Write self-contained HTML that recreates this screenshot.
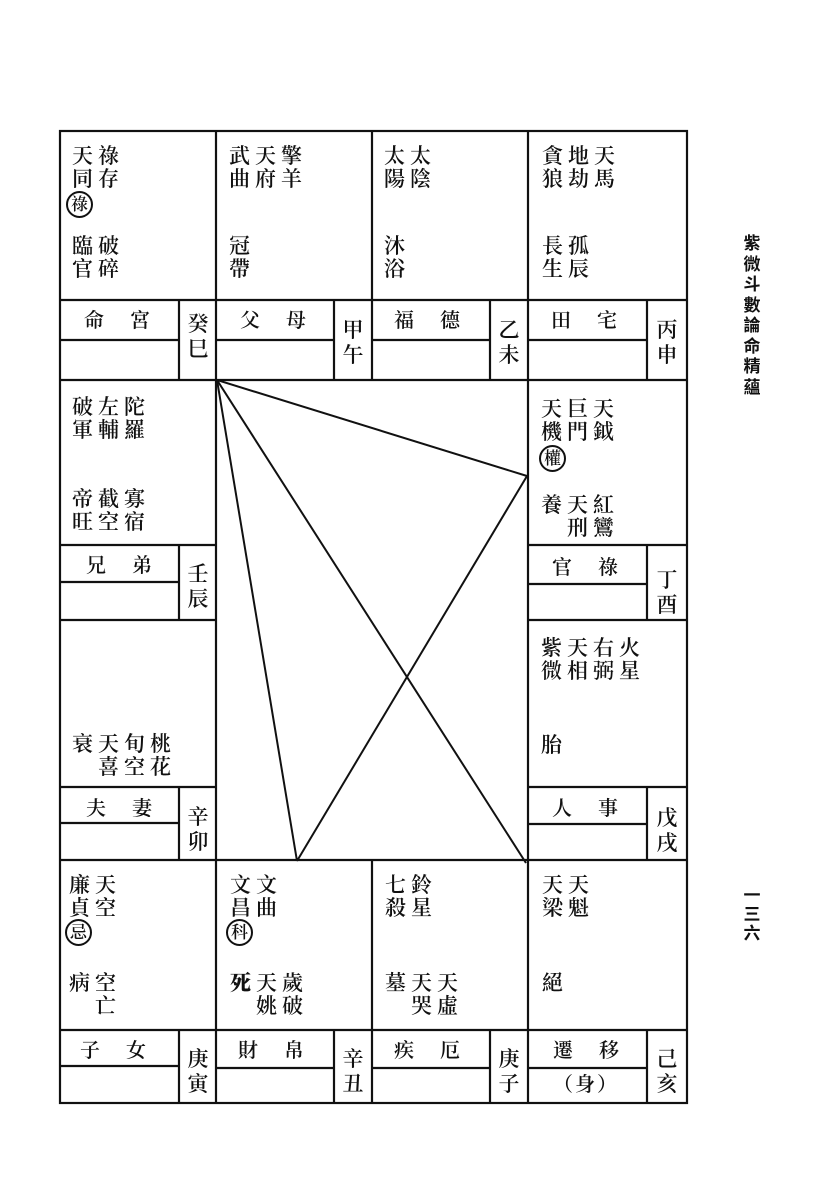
<!DOCTYPE html>
<html><head><meta charset="utf-8"><style>
body{margin:0;background:#fff;}
#p{position:relative;width:827px;height:1180px;overflow:hidden;background:#fff;font-family:"Liberation Serif","Noto Serif CJK SC","Noto Sans CJK TC",serif;color:#111;}
.t{position:absolute;font-size:21px;line-height:23px;letter-spacing:5px;white-space:pre;font-weight:600;}
.l{position:absolute;font-size:20px;line-height:22px;white-space:pre;letter-spacing:26px;font-weight:600;}
.b{position:absolute;font-size:21px;line-height:25px;width:30px;text-align:center;font-weight:600;}
.c{position:absolute;width:23px;height:23px;border:2px solid #111;border-radius:50%;font-size:17px;line-height:23px;text-align:center;font-weight:600;}
.side{position:absolute;left:742px;width:20px;font-size:17px;line-height:20.5px;font-weight:bold;text-align:center;font-family:"Noto Sans CJK TC",sans-serif;}
</style></head><body><div id="p">
<svg width="827" height="1180" style="position:absolute;left:0;top:0" stroke="#111" fill="none">
<g stroke-width="2.2">
<rect x="60" y="131" width="627" height="972"/>
<line x1="216" y1="131" x2="216" y2="1103"/>
<line x1="528" y1="131" x2="528" y2="1103"/>
<line x1="372" y1="131" x2="372" y2="380"/>
<line x1="372" y1="860" x2="372" y2="1103"/>
<line x1="60" y1="300" x2="687" y2="300"/>
<line x1="60" y1="380" x2="687" y2="380"/>
<line x1="60" y1="545" x2="216" y2="545"/><line x1="528" y1="545" x2="687" y2="545"/>
<line x1="60" y1="620" x2="216" y2="620"/><line x1="528" y1="620" x2="687" y2="620"/>
<line x1="60" y1="787" x2="216" y2="787"/><line x1="528" y1="787" x2="687" y2="787"/>
<line x1="60" y1="860" x2="687" y2="860"/>
<line x1="60" y1="1030" x2="687" y2="1030"/>
<line x1="179" y1="300" x2="179" y2="380"/><line x1="334" y1="300" x2="334" y2="380"/><line x1="490" y1="300" x2="490" y2="380"/><line x1="647" y1="300" x2="647" y2="380"/>
<line x1="179" y1="545" x2="179" y2="620"/><line x1="647" y1="545" x2="647" y2="620"/>
<line x1="179" y1="787" x2="179" y2="860"/><line x1="647" y1="787" x2="647" y2="860"/>
<line x1="179" y1="1030" x2="179" y2="1103"/><line x1="334" y1="1030" x2="334" y2="1103"/><line x1="490" y1="1030" x2="490" y2="1103"/><line x1="647" y1="1030" x2="647" y2="1103"/>
<line x1="60" y1="340" x2="179" y2="340"/><line x1="216" y1="340" x2="334" y2="340"/><line x1="372" y1="340" x2="490" y2="340"/><line x1="528" y1="340" x2="647" y2="340"/>
<line x1="60" y1="582" x2="179" y2="582"/><line x1="528" y1="584" x2="647" y2="584"/>
<line x1="60" y1="823" x2="179" y2="823"/><line x1="528" y1="824" x2="647" y2="824"/>
<line x1="60" y1="1066" x2="179" y2="1066"/><line x1="216" y1="1068" x2="334" y2="1068"/><line x1="372" y1="1068" x2="490" y2="1068"/><line x1="528" y1="1068" x2="647" y2="1068"/>
</g>
<g stroke-width="2">
<line x1="217" y1="380" x2="527" y2="476"/>
<line x1="217" y1="380" x2="526" y2="863"/>
<line x1="217" y1="380" x2="297" y2="861"/>
<line x1="297" y1="861" x2="527" y2="476"/>
</g>
</svg>
<div class="t" style="left:72px;top:145px">天祿
同存</div>
<div class="c" style="left:66px;top:191px">祿</div>
<div class="t" style="left:72px;top:235px">臨破
官碎</div>
<div class="t" style="left:229px;top:145px">武天擎
曲府羊</div>
<div class="t" style="left:229px;top:235px">冠
帶</div>
<div class="t" style="left:384px;top:145px">太太
陽陰</div>
<div class="t" style="left:384px;top:235px">沐
浴</div>
<div class="t" style="left:542px;top:145px">貪地天
狼劫馬</div>
<div class="t" style="left:542px;top:235px">長孤
生辰</div>
<div class="l" style="left:84px;top:310px">命宮</div>
<div class="l" style="left:240px;top:310px">父母</div>
<div class="l" style="left:394px;top:310px">福德</div>
<div class="l" style="left:551px;top:310px">田宅</div>
<div class="b" style="left:183px;top:312px">癸<br>巳</div>
<div class="b" style="left:338px;top:318px">甲<br>午</div>
<div class="b" style="left:494px;top:318px">乙<br>未</div>
<div class="b" style="left:652px;top:318px">丙<br>申</div>
<div class="t" style="left:72px;top:396px">破左陀
軍輔羅</div>
<div class="t" style="left:72px;top:488px">帝截寡
旺空宿</div>
<div class="l" style="left:86px;top:555px">兄弟</div>
<div class="b" style="left:183px;top:562px">壬<br>辰</div>
<div class="t" style="left:541px;top:398px">天巨天
機門鉞</div>
<div class="c" style="left:539px;top:445px">權</div>
<div class="t" style="left:541px;top:494px">養天紅
　刑鸞</div>
<div class="l" style="left:552px;top:557px">官祿</div>
<div class="b" style="left:652px;top:568px">丁<br>酉</div>
<div class="t" style="left:72px;top:733px">衰天旬桃
　喜空花</div>
<div class="l" style="left:86px;top:798px">夫妻</div>
<div class="b" style="left:183px;top:805px">辛<br>卯</div>
<div class="t" style="left:541px;top:637px">紫天右火
微相弼星</div>
<div class="t" style="left:541px;top:734px">胎</div>
<div class="l" style="left:552px;top:798px">人事</div>
<div class="b" style="left:652px;top:806px">戊<br>戌</div>
<div class="t" style="left:69px;top:874px">廉天
貞空</div>
<div class="c" style="left:65px;top:919px">忌</div>
<div class="t" style="left:69px;top:972px">病空
　亡</div>
<div class="t" style="left:230px;top:874px">文文
昌曲</div>
<div class="c" style="left:226px;top:919px">科</div>
<div class="t" style="left:230px;top:972px"><b>死</b>天歲
　姚破</div>
<div class="t" style="left:385px;top:874px">七鈴
殺星</div>
<div class="t" style="left:385px;top:972px">墓天天
　哭虛</div>
<div class="t" style="left:542px;top:874px">天天
梁魁</div>
<div class="t" style="left:542px;top:972px">絕</div>
<div class="l" style="left:80px;top:1040px">子女</div>
<div class="l" style="left:238px;top:1040px">財帛</div>
<div class="l" style="left:394px;top:1040px">疾厄</div>
<div class="l" style="left:553px;top:1040px">遷移</div>
<div class="l" style="left:553px;top:1074px;letter-spacing:2px">（身）</div>
<div class="b" style="left:183px;top:1047px">庚<br>寅</div>
<div class="b" style="left:338px;top:1047px">辛<br>丑</div>
<div class="b" style="left:494px;top:1047px">庚<br>子</div>
<div class="b" style="left:652px;top:1047px">己<br>亥</div>
<div class="side" style="top:232px">紫<br>微<br>斗<br>數<br>論<br>命<br>精<br>蘊</div>
<div class="side" style="top:884px;line-height:19px">一<br>三<br>六</div>
</div></body></html>
